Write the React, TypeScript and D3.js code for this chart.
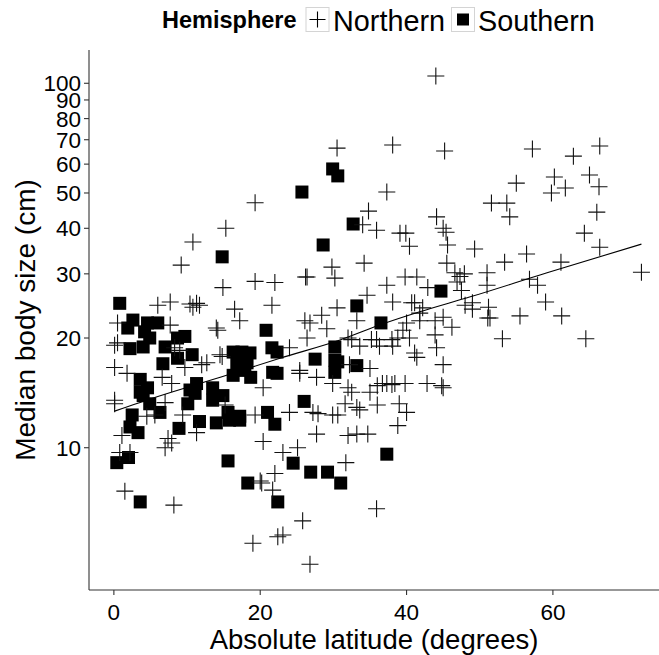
import * as d3 from "d3";
import React from "react";

// Northern hemisphere points: absolute latitude, median body size (cm)
const northLat = [
  19.3, 15.3, 10.8,
  44, 30.5, 38.1, 45.2, 37.3, 34.8, 34.0, 35.9, 39.1, 39.9, 44.1, 45, 45.4,
  57.2, 66.4, 62.8, 60.2, 65, 55, 61.7, 59.8, 66.3, 51.6, 53.7, 54.1, 66, 64.3, 66.4,
  72.1, 49.3, 53.4, 56.4, 61.1, 51, 51, 56.8, 57.9, 59, 49, 49, 51.2, 51.4, 51.1, 55.5, 61.2, 53.1, 64.5,
  40.4, 45.6, 34.2, 45.5, 46.6, 47.3, 47.9, 29.8, 30.2, 26.4, 26.2, 39.8, 41.4, 37.3, 42.9, 46.9, 47.5, 48,
  34.6, 38.1, 40.7, 41.1, 42.2, 41.8, 30.5, 28.4, 26.1, 26.8, 33.2, 40, 39.5, 41.8, 43.9, 45, 46.2, 29.1,
  26.4, 32, 32.5, 35.2, 35.9, 38, 38.8, 40.4, 43.9, 33.6, 36.3, 38.1, 24, 44.1, 41.1, 41.4, 32.2, 35, 45,
  25.4, 25.4, 27.7, 29.9, 32, 32.5, 36, 36.7, 37.3, 38, 38.4, 39.8, 42.8, 44.8, 45, 35, 31.6, 33.2, 33.6,
  36, 39, 24, 27.2, 27.9, 29.9, 30.6, 40,
  9.2, 19.3, 22, 14.9, 6, 7.7, 10.4, 11.3, 11.7, 10.8, 16.5, 17.2, 21.6, 0.5, 7.7, 14, 14.2, 0.5, 0.1,
  8.3, 9, 14.8, 14.5, 12, 12.7, 9.7, 0.1, 1.8, 6.6, 7.9, 0.1, 0.1, 7, 15.2, 20.4, 5.6, 4.5, 9.4, 19.3,
  1.1, 7.4, 7, 7.9, 11.3, 20.4, 0.8, 2.2, 22, 21.7, 20.2, 20, 1.5, 8.2, 19, 22.4,
  25.1, 23.1, 31.7, 35.9, 25.8, 23.1, 26.8, 27.7, 32, 33.2, 34.7, 38.8,
];
const northSize = [
  47, 40, 36.7,
  104.7, 66.4, 67.7, 65.2, 50.3, 44.6, 40.9, 39.5, 38.8, 38.8, 43, 40, 39,
  66, 67.3, 63.1, 55.3, 56, 53.2, 51.6, 50, 52, 46.9, 46.9, 43, 44.3, 38.8, 35.5,
  30.3, 35.1, 32.3, 34, 32.3, 30.2, 27.9, 29, 27.9, 25.1, 25, 24, 24.3, 22.7, 22.7, 23, 23, 19.9, 19.9,
  35.7, 36, 32.1, 32.1, 30.2, 29.5, 30, 31.3, 29.2, 29.4, 29.4, 29.4, 29.4, 27.9, 27.5, 28.5, 27, 24.6,
  26.2, 25.1, 25, 25, 24.2, 23.4, 24.2, 23.1, 22.3, 22, 22.3, 22, 21, 22.3, 22.3, 22.8, 21.4, 21.2,
  20, 20, 19.8, 19.8, 19.8, 19.8, 20, 20, 20.4, 19, 19, 19, 18.8, 18.8, 18.2, 17.7, 16.9, 16.5, 16.9,
  16.3, 16, 15.6, 15, 14.6, 14.2, 14.8, 15, 15, 14.9, 15, 15, 15, 14.8, 14.6, 14.2, 13.2, 12.9, 12.7,
  13.1, 13.2, 12.5, 12.5, 12.4, 12.3, 12.3, 12.5,
  31.7, 28.6, 28.4, 27.5, 24.6, 25.1, 24.8, 24.9, 24.6, 24.3, 24, 22.3, 24.6, 22, 21.7, 21.3, 21, 19.4, 19.1,
  18.8, 18.5, 17.8, 18, 16.9, 17.1, 16.6, 16.6, 16, 15.6, 15, 13.2, 13.5, 13.3, 13.1, 14.6, 12.3, 12.2, 12.3, 12.3,
  10.8, 10.6, 10, 10.3, 11, 10.4, 9.7, 9.7, 8.5, 7.65, 8.0, 8.1, 7.6, 6.96, 5.47, 5.7,
  10, 9.7, 9.1, 6.8, 6.3, 5.76, 4.79, 10.9, 10.8, 10.9, 10.9, 11.5,
];

// Southern hemisphere points
const southLat = [
  29.9, 30.6, 25.7, 32.7,
  28.6, 44.7, 33.2, 36.5, 30.2, 27.5, 30.2, 30.6, 30.2, 33.2, 26,
  14.8, 0.8, 2.6, 4.6, 6, 4.2, 1.9, 20.8, 4.9, 4, 8.7, 9.7, 2.2, 7, 8.7, 10.7, 6.7,
  16.3, 17.5, 18.6, 21.6, 22.3, 16.8, 18.2, 17.9, 16.3, 18.7, 22.3, 21.7, 3.6, 4.6, 3.6, 4,
  11.3, 10.4, 11.1, 13.5, 14.9, 13.5, 4.9, 10.1, 2.5, 6.3, 15.6, 17.2, 21,
  2.2, 3.3, 8.9, 11.7, 14, 15.8, 17.2, 22, 0.4, 2, 15.6, 18.3, 3.6, 22.4,
  24.5, 26.9, 29.2, 31, 37.3,
];
const southSize = [
  58.2, 55.7, 50.3, 41.1,
  36, 26.9, 24.5, 22, 18.9, 17.5, 17.4, 17.2, 16.1, 16.8, 13.4,
  33.4, 24.9, 22.4, 22, 22, 20.8, 21.3, 21, 20, 18.9, 20, 20.2, 18.7, 18.9, 17.6, 18, 17,
  18.3, 18.3, 18.2, 18.8, 18.3, 17.1, 17.1, 16.3, 15.8, 15.6, 16, 16.1, 15.4, 14.6, 14.2, 13.9,
  15, 14.4, 14.1, 14.6, 13.9, 13.5, 13.2, 13.2, 12.3, 12.5, 12.5, 12.2, 12.5,
  11.4, 11, 11.3, 11.8, 11.7, 11.9, 11.9, 11.6, 9.1, 9.4, 9.2, 8.0, 7.1, 7.1,
  9.07, 8.57, 8.57, 8.0, 9.6,
];

// smoother
const smoothLat = [0.1, 5.9, 15.4, 22.7, 30.9, 36.3, 41.8, 48.6, 59.2, 72.1];
const smoothSize = [12.6, 13.8, 15.8, 17.6, 19.75, 21.7, 23.6, 25.9, 30.2, 36.2];

const xTicks = [0, 20, 40, 60];
const yTicks = [10, 20, 30, 40, 50, 60, 70, 80, 90, 100];

const FONT = "'Liberation Sans', Arial, Helvetica, sans-serif";

const W = 659;
const H = 655;
const left = 89;
const right = 659;
const top = 50;
const bottom = 590;

const x = d3.scaleLinear().domain([-3.4, 74.5]).range([left, right]);
const y = d3.scaleLog().domain([4.07, 123.4]).range([bottom, top]);

const CR = 8.5; // half cross size
const SQ = 13; // square side

const crossPath = (cx: number, cy: number, r: number) =>
  `M${cx - r},${cy}H${cx + r}M${cx},${cy - r}V${cy + r}`;

const App: React.FC = () => {
  const north = northLat.map((d, i) => [d, northSize[i]]);
  const south = southLat.map((d, i) => [d, southSize[i]]);
  const smooth = smoothLat.map((d, i) => [d, smoothSize[i]] as [number, number]);

  const line = d3
    .line<[number, number]>()
    .x((d) => x(d[0]))
    .y((d) => y(d[1]))
    .curve(d3.curveMonotoneX);

  return (
    <div style={{ position: "absolute", left: 0, top: 0 }}>
      <svg width={W} height={H} style={{ display: "block", background: "#fff" }}>
        {/* legend */}
        <g fontFamily={FONT}>
          <text x={162} y={28} fontSize={23.5} fontWeight="bold" fill="#000">
            Hemisphere
          </text>
          <rect x={306} y={7.5} width={23} height={24} fill="#fff" stroke="#d4d4d4" />
          <path d={crossPath(317.5, 19.5, 8)} stroke="#000" strokeWidth={1.1} fill="none" />
          <text x={333} y={31} fontSize={28.8} fill="#000">
            Northern
          </text>
          <rect x={451.5} y={7.5} width={23} height={24} fill="#fff" stroke="#d4d4d4" />
          <rect x={457} y={13.5} width={12} height={12} fill="#000" />
          <text x={478} y={31} fontSize={28.8} fill="#000">
            Southern
          </text>
        </g>

        {/* points */}
        <g>
          {south.map((d, i) => (
            <rect
              key={"s" + i}
              x={x(d[0]) - SQ / 2}
              y={y(d[1]) - SQ / 2}
              width={SQ}
              height={SQ}
              fill="#000"
            />
          ))}
        </g>
        <g stroke="#111" strokeWidth={1.1} fill="none">
          {north.map((d, i) => (
            <path key={"n" + i} d={crossPath(x(d[0]), y(d[1]), CR)} />
          ))}
        </g>

        {/* smoother */}
        <path d={line(smooth) || ""} fill="none" stroke="#000" strokeWidth={1.1} />

        {/* axes */}
        <g stroke="#333" strokeWidth={1.1}>
          <line x1={left} x2={left} y1={top} y2={bottom} />
          <line x1={left} x2={right} y1={bottom} y2={bottom} />
          {yTicks.map((t) => (
            <line key={"yt" + t} x1={left - 5} x2={left} y1={y(t)} y2={y(t)} />
          ))}
          {xTicks.map((t) => (
            <line key={"xt" + t} x1={x(t)} x2={x(t)} y1={bottom} y2={bottom + 5} />
          ))}
        </g>
        <g fontFamily={FONT} fontSize={22.5} fill="#000">
          {yTicks.map((t) => (
            <text key={"yl" + t} x={left - 8} y={y(t)} dy="0.36em" textAnchor="end">
              {t}
            </text>
          ))}
          {xTicks.map((t) => (
            <text key={"xl" + t} x={x(t)} y={620} textAnchor="middle">
              {t}
            </text>
          ))}
        </g>
        <text
          x={(left + right) / 2}
          y={649}
          textAnchor="middle"
          fontFamily={FONT}
          fontSize={27.5}
          fill="#000"
        >
          Absolute latitude (degrees)
        </text>
        <text
          transform={`translate(35,${(top + bottom) / 2}) rotate(-90)`}
          textAnchor="middle"
          fontFamily={FONT}
          fontSize={28}
          fill="#000"
        >
          Median body size (cm)
        </text>
      </svg>
    </div>
  );
};

export default App;
